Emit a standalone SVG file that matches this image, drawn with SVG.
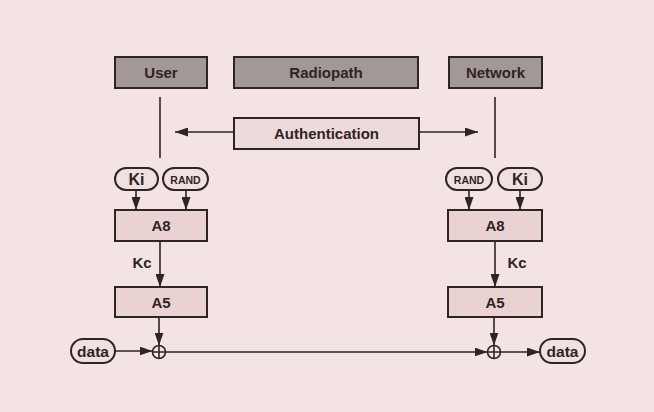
<svg xmlns="http://www.w3.org/2000/svg" width="654" height="412" viewBox="0 0 654 412">
  <defs>
    <marker id="arrow" markerUnits="userSpaceOnUse" markerWidth="13" markerHeight="9" refX="13" refY="4.5" orient="auto">
      <path d="M0,0 L13,4.5 L0,9 Z" fill="#2e2424"/>
    </marker>
    <style>
      .bg { fill: #f3e3e3; }
      .head { fill: #a29898; stroke: #2e2424; stroke-width: 2; }
      .auth { fill: #eddada; stroke: #2e2424; stroke-width: 2; }
      .algo { fill: #ead2d2; stroke: #2e2424; stroke-width: 2; }
      .pill { fill: #f1e0e0; stroke: #2e2424; stroke-width: 2; }
      .lbl { font-family: "Liberation Sans", Arial, sans-serif; font-weight: bold; fill: #2e2424; text-anchor: middle; dominant-baseline: central; }
      .line { stroke: #2e2424; stroke-width: 1.6; fill: none; }
      .arr { stroke: #2e2424; stroke-width: 1.6; fill: none; marker-end: url(#arrow); }
      .xor { fill: none; stroke: #2e2424; stroke-width: 1.6; }
    </style>
  </defs>

  <rect class="bg" x="0" y="0" width="654" height="412"/>

  <!-- header boxes -->
  <g id="user">
    <rect class="head" x="115" y="57" width="92" height="31"/>
    <text class="lbl" x="161" y="72.5" font-size="15">User</text>
  </g>
  <g id="radiopath">
    <rect class="head" x="234" y="57" width="184" height="31"/>
    <text class="lbl" x="326" y="72.5" font-size="15">Radiopath</text>
  </g>
  <g id="network">
    <rect class="head" x="449" y="57" width="93" height="31"/>
    <text class="lbl" x="495.5" y="72.5" font-size="15">Network</text>
  </g>

  <g id="authentication">
    <rect class="auth" x="234" y="118" width="185" height="31"/>
    <text class="lbl" x="326.5" y="133.5" font-size="15">Authentication</text>
  </g>

  <!-- user side -->
  <g id="ki-user">
    <rect class="pill" x="115" y="168" width="43" height="22" rx="11"/>
    <text class="lbl" x="136.5" y="179" font-size="16">Ki</text>
  </g>
  <g id="rand-user">
    <rect class="pill" x="163" y="168" width="45" height="22" rx="11"/>
    <text class="lbl" x="185.5" y="179.5" font-size="10.5">RAND</text>
  </g>
  <g id="a8-user">
    <rect class="algo" x="115" y="210" width="92" height="31"/>
    <text class="lbl" x="161" y="225.5" font-size="15">A8</text>
  </g>
  <g id="a5-user">
    <rect class="algo" x="115" y="287" width="92" height="30"/>
    <text class="lbl" x="161" y="302" font-size="15">A5</text>
  </g>
  <g id="data-in">
    <rect class="pill" x="71" y="339" width="44" height="24" rx="12"/>
    <text class="lbl" x="93" y="351" font-size="15.5">data</text>
  </g>
  <g id="xor-user">
    <circle class="xor" cx="159" cy="352" r="6.5"/>
    <path class="xor" d="M152.5,352 H165.5 M159,345.5 V358.5"/>
  </g>

  <!-- network side -->
  <g id="rand-net">
    <rect class="pill" x="446" y="168" width="46" height="22" rx="11"/>
    <text class="lbl" x="469" y="179.5" font-size="10.5">RAND</text>
  </g>
  <g id="ki-net">
    <rect class="pill" x="498" y="168" width="44" height="22" rx="11"/>
    <text class="lbl" x="520" y="179" font-size="16">Ki</text>
  </g>
  <g id="a8-net">
    <rect class="algo" x="448" y="210" width="94" height="31"/>
    <text class="lbl" x="495" y="225.5" font-size="15">A8</text>
  </g>
  <g id="a5-net">
    <rect class="algo" x="448" y="287" width="94" height="30"/>
    <text class="lbl" x="495" y="302" font-size="15">A5</text>
  </g>
  <g id="xor-net">
    <circle class="xor" cx="494" cy="352" r="6.5"/>
    <path class="xor" d="M487.5,352 H500.5 M494,345.5 V358.5"/>
  </g>
  <g id="data-out">
    <rect class="pill" x="540" y="339" width="45" height="24" rx="12"/>
    <text class="lbl" x="562.5" y="351" font-size="15.5">data</text>
  </g>

  <!-- key labels -->
  <g id="kc-labels">
    <text class="lbl" x="142" y="262" font-size="15">Kc</text>
    <text class="lbl" x="517" y="262" font-size="15">Kc</text>
  </g>

  <!-- connectors -->
  <g id="connectors">
    <line class="line" x1="160" y1="97" x2="160" y2="158"/>
    <line class="line" x1="495" y1="97" x2="495" y2="158"/>
    <line class="arr" x1="234" y1="132" x2="175" y2="132"/>
    <line class="arr" x1="419" y1="132" x2="478" y2="132"/>

    <line class="arr" x1="136" y1="190" x2="136" y2="210"/>
    <line class="arr" x1="186" y1="190" x2="186" y2="210"/>
    <line class="arr" x1="160" y1="241" x2="160" y2="287"/>
    <line class="arr" x1="159" y1="317" x2="159" y2="345.5"/>
    <line class="arr" x1="115" y1="351" x2="152.5" y2="351"/>

    <line class="arr" x1="469" y1="190" x2="469" y2="210"/>
    <line class="arr" x1="520" y1="190" x2="520" y2="210"/>
    <line class="arr" x1="495" y1="241" x2="495" y2="287"/>
    <line class="arr" x1="494" y1="317" x2="494" y2="345.5"/>

    <line class="arr" x1="165.5" y1="352" x2="487.5" y2="352"/>
    <line class="arr" x1="500.5" y1="352" x2="540" y2="352"/>
  </g>
</svg>
